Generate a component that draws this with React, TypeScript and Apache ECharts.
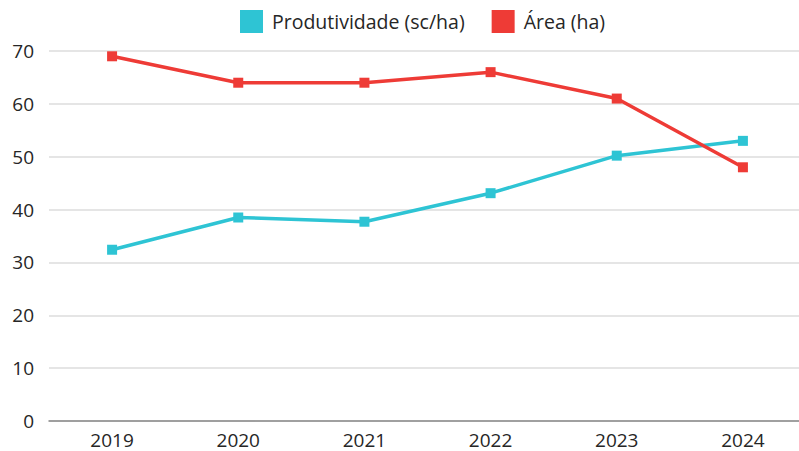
import React, { useEffect, useRef } from "react";
import * as echarts from "echarts";

const years = ["2019", "2020", "2021", "2022", "2023", "2024"];
const produtividade = [32.4, 38.5, 37.7, 43.1, 50.2, 53.0];
const area = [69, 64, 64, 66, 61, 48];

export default function App() {
  const ref = useRef<HTMLDivElement>(null);
  useEffect(() => {
    if (!ref.current) return;
    const chart = echarts.init(ref.current, null, { renderer: "svg" });
    const font = "'Open Sans', 'Noto Sans', sans-serif";
    chart.setOption({
      animation: false,
      textStyle: { fontFamily: font },
      legend: {
        top: 5,
        left: 235,
        itemWidth: 23,
        itemHeight: 23,
        itemGap: 27,
        icon: "rect",
        textStyle: { fontSize: 19.5, color: "#262626", fontFamily: font, padding: [0, 0, 0, 4] },
        data: ["Produtividade (sc/ha)", "Área (ha)"],
      },
      grid: { left: 49, top: 51, right: 0, bottom: 30, containLabel: false },
      xAxis: {
        type: "category",
        data: years,
        axisLine: { lineStyle: { color: "#888", width: 1.5 } },
        axisTick: { show: false },
        axisLabel: { fontSize: 19, color: "#262626", margin: 9, fontFamily: font },
      },
      yAxis: {
        type: "value",
        min: 0,
        max: 70,
        interval: 10,
        axisLine: { show: false },
        axisTick: { show: false },
        splitLine: { lineStyle: { color: "#dcdcdc", width: 1.5 } },
        axisLabel: { fontSize: 19, color: "#262626", margin: 15, fontFamily: font },
      },
      series: [
        {
          name: "Produtividade (sc/ha)",
          type: "line",
          data: produtividade,
          color: "#2EC4D4",
          symbol: "rect",
          symbolSize: 10,
          lineStyle: { width: 3.5 },
        },
        {
          name: "Área (ha)",
          type: "line",
          data: area,
          color: "#EE3B36",
          symbol: "rect",
          symbolSize: 10,
          lineStyle: { width: 3.5 },
        },
      ],
    });
    return () => chart.dispose();
  }, []);
  return (
    <div style={{ position: "absolute", left: 0, top: 0, width: 799, height: 451, overflow: "hidden" }}>
      <div ref={ref} style={{ width: 806, height: 451 }} />
    </div>
  );
}
